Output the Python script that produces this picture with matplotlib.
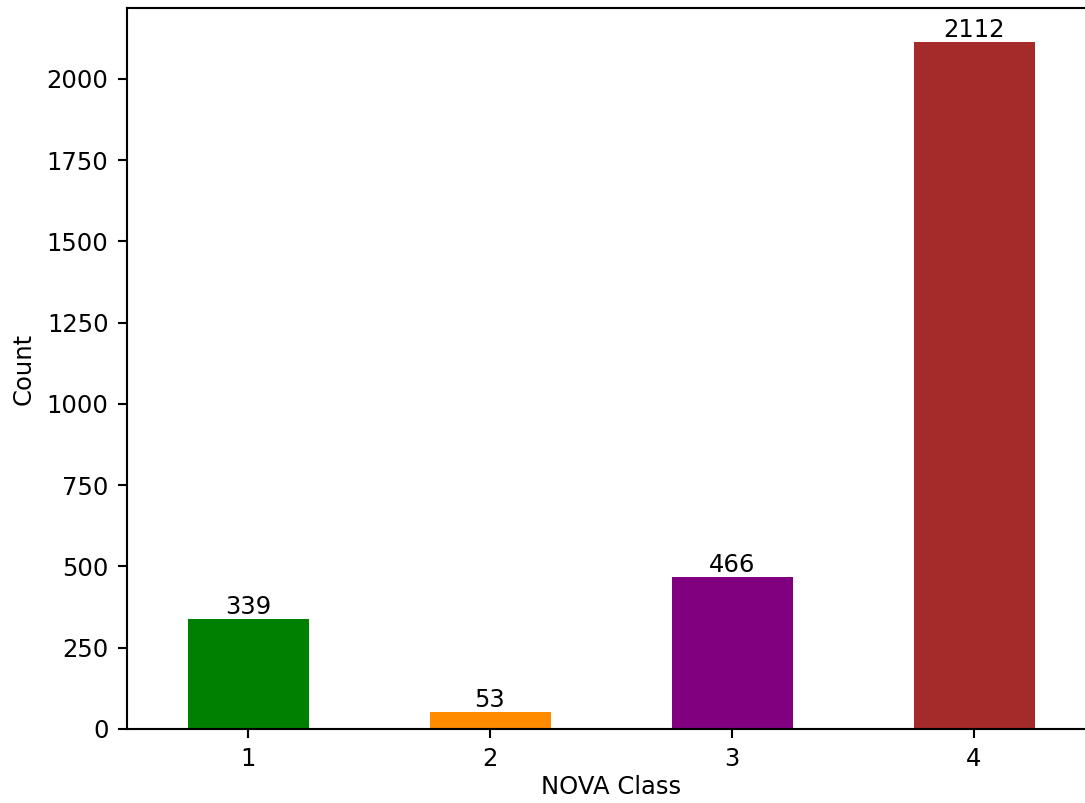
import numpy as np
import matplotlib
matplotlib.use('Agg')
from matplotlib import pyplot as plt

plt.rcParams['font.size'] = 9.2

#(0) Data:
classes = ['1', '2', '3', '4']
counts  = [339, 53, 466, 2112]
colors  = ['green', 'darkorange', 'purple', 'brown']

#(1) Plot:
dpi = 190
fig = plt.figure(figsize=(1085/dpi, 803/dpi), dpi=dpi)
ax  = fig.add_axes([127/1085, 74/803, 968/1085, (729-8)/803])
x   = np.arange(len(classes))
bars = ax.bar(x, counts, width=0.5, color=colors)
ax.bar_label(bars)
ax.set_xticks(x)
ax.set_xticklabels(classes, rotation=0)
ax.set_xlim(-0.5, len(classes)-0.5)
ax.set_xlabel('NOVA Class', labelpad=1.5)
ax.set_ylabel('Count')
fig.savefig('out.png', dpi=dpi)
